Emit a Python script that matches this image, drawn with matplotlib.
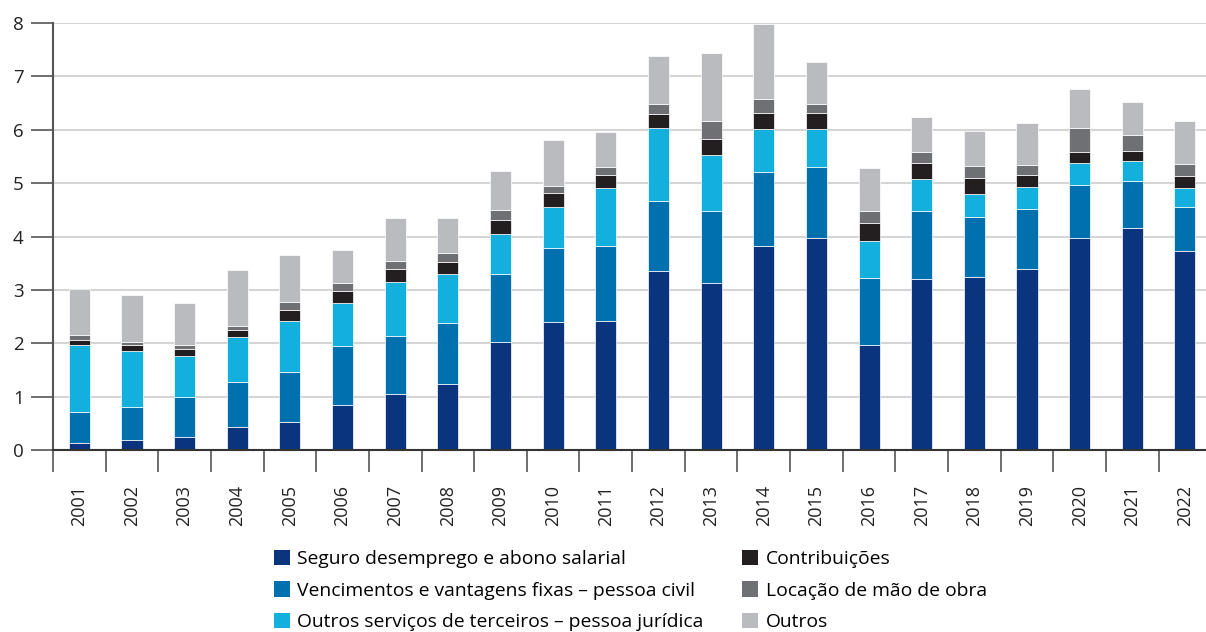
from matplotlib import pyplot as plt
from matplotlib.patches import Patch
import numpy as np

plt.rcParams['font.family'] = ['Open Sans', 'DejaVu Sans']

years = [str(y) for y in range(2001, 2023)]

seguro = [0.14, 0.19, 0.25, 0.44, 0.53, 0.84, 1.04, 1.23, 2.02, 2.40, 2.42,
          3.35, 3.12, 3.83, 3.98, 1.96, 3.21, 3.25, 3.40, 3.98, 4.15, 3.72]
vencimentos = [0.58, 0.62, 0.74, 0.84, 0.94, 1.10, 1.10, 1.15, 1.28, 1.39, 1.41,
               1.32, 1.35, 1.37, 1.33, 1.27, 1.27, 1.12, 1.11, 0.99, 0.89, 0.83]
servicos = [1.24, 1.05, 0.77, 0.83, 0.95, 0.81, 1.01, 0.92, 0.75, 0.76, 1.08,
            1.36, 1.06, 0.82, 0.71, 0.69, 0.59, 0.43, 0.41, 0.41, 0.37, 0.36]
contribuicoes = [0.10, 0.10, 0.14, 0.13, 0.21, 0.23, 0.24, 0.23, 0.26, 0.26, 0.25,
                 0.26, 0.29, 0.29, 0.29, 0.34, 0.31, 0.30, 0.24, 0.21, 0.20, 0.23]
locacao = [0.09, 0.06, 0.07, 0.09, 0.15, 0.15, 0.15, 0.16, 0.18, 0.14, 0.14,
           0.19, 0.35, 0.26, 0.18, 0.22, 0.21, 0.23, 0.18, 0.44, 0.29, 0.22]
outros = [0.86, 0.89, 0.79, 1.04, 0.87, 0.62, 0.81, 0.65, 0.74, 0.86, 0.66,
          0.91, 1.26, 1.42, 0.77, 0.80, 0.65, 0.64, 0.78, 0.74, 0.62, 0.81]

labels = ['Seguro desemprego e abono salarial',
          'Vencimentos e vantagens fixas – pessoa civil',
          'Outros serviços de terceiros – pessoa jurídica',
          'Contribuições',
          'Locação de mão de obra',
          'Outros']
colors = ['#0a347d', '#0071ae', '#13afdd', '#231f20', '#6f7073', '#babbbe']
series = [seguro, vencimentos, servicos, contribuicoes, locacao, outros]

fig = plt.figure(figsize=(12.06, 6.32), dpi=100)
ax = fig.add_axes([53 / 1206, 1 - 450 / 632, 1 - 53 / 1206, (450 - 23) / 632])

x = np.arange(len(years))
bottom = np.zeros(len(years))
for vals, col in zip(series, colors):
    ax.bar(x, vals, 0.4, bottom=bottom, color=col, edgecolor='white',
           linewidth=0.5, zorder=3)
    bottom += np.array(vals)

ax.set_ylim(0, 8)
ax.set_xlim(-0.5, 21.4)
ax.set_yticks(range(0, 9))
ax.yaxis.grid(True, color='#d5d5d5', linewidth=1.5, zorder=0)
ax.tick_params(axis='y', length=16, width=1.2, color='#555555', labelsize=13.5,
               labelcolor='#222222', pad=5)

ax.set_xticks(x)
ax.set_xticklabels(years, rotation=90, fontsize=13, color='#222222')
ax.set_xticks(np.arange(-0.5, 21.5, 1), minor=True)
ax.tick_params(axis='x', which='major', length=0, pad=25)
ax.tick_params(axis='x', which='minor', length=16, width=1.2, color='#555555')

for s in ['top', 'right']:
    ax.spines[s].set_visible(False)
ax.spines['left'].set_color('#555555')
ax.spines['left'].set_linewidth(1.5)
ax.spines['bottom'].set_color('#333333')
ax.spines['bottom'].set_linewidth(1.5)
ax.spines['bottom'].set_zorder(4)

handles = [Patch(facecolor=c, edgecolor='none') for c in colors]
fig.legend(handles, labels, ncol=2, loc='upper left',
           bbox_to_anchor=(274 / 1206, 1 - 550 / 632), frameon=False,
           fontsize=13.9, handlelength=0.83, handleheight=0.83,
           handletextpad=0.38, labelspacing=0.68, columnspacing=2.0,
           borderaxespad=0, borderpad=0)

fig.savefig('out.png', dpi=100)
